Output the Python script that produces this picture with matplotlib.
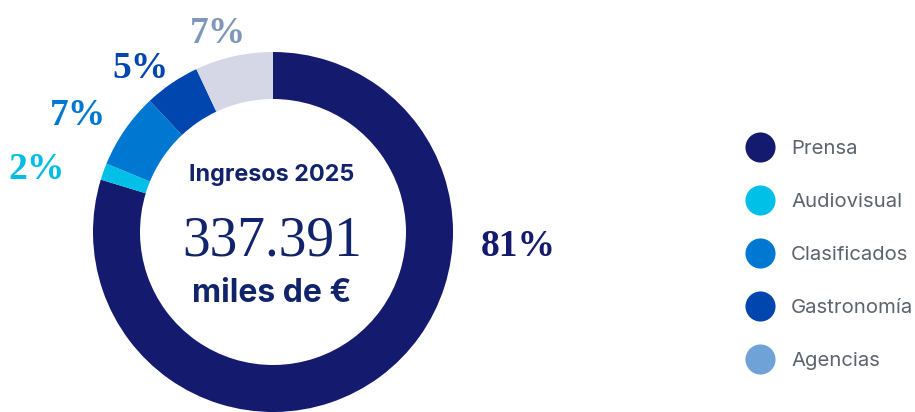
import matplotlib
matplotlib.use("Agg")
import matplotlib.pyplot as plt

# ---- data ----
categories = ["Prensa", "Audiovisual", "Clasificados", "Gastronomía", "Agencias"]
shares = [79.7, 1.5, 6.8, 5.0, 7.0]          # slice sizes
pct_labels = ["81%", "2%", "7%", "5%", "7%"]  # printed labels
total_value = "337.391"
title_text = "Ingresos 2025"
unit_text = "miles de €"

# ---- styles ----
slice_colors = ["#141a6e", "#00c0e8", "#0077d0", "#0046ae", "#d5d6e6"]
legend_colors = ["#141a6e", "#00c0e8", "#0077d0", "#0046ae", "#6fa3d8"]
label_colors = ["#141a6e", "#00bde5", "#0077d0", "#0046ae", "#7f98b8"]
label_pos = [(518, 247), (37, 169), (78, 115), (140, 68), (218, 33)]  # pixel positions

W, H = 915, 412
fig = plt.figure(figsize=(W / 100, H / 100), dpi=100)
ax = fig.add_axes([0, 0, 1, 1])

cx, cy, R = 273, H - 232, 180
ax.pie(shares, colors=slice_colors, startangle=90, counterclock=False,
       center=(cx, cy), radius=R,
       wedgeprops=dict(width=R - 133, linewidth=0))
ax.set_xlim(0, W)
ax.set_ylim(0, H)
ax.set_aspect("auto")
ax.axis("off")

navy = "#11236b"
ax.text(cx - 1, H - 175, title_text, ha="center", va="center", fontsize=16.8,
        fontweight="bold", family="Inter", color=navy)
ax.text(cx - 1, H - 241, total_value, ha="center", va="center", fontsize=40,
        family="Liberation Serif", color=navy)
ax.text(cx - 1, H - 293, unit_text, ha="center", va="center", fontsize=23,
        fontweight="bold", family="Inter", color=navy)

for lab, col, (px, py) in zip(pct_labels, label_colors, label_pos):
    ax.text(px, H - py, lab, ha="center", va="center", fontsize=27,
            fontweight="bold", family="Liberation Serif", color=col)

leg_y = [147, 200, 253, 306, 359]
for name, col, py in zip(categories, legend_colors, leg_y):
    ax.scatter([760], [H - py], s=470, color=col, linewidths=0)
    ax.text(791, H - py - 2, name, ha="left", va="center", fontsize=14.6,
            family="Inter", color="#5d636e")

fig.savefig("out.png", dpi=100)
